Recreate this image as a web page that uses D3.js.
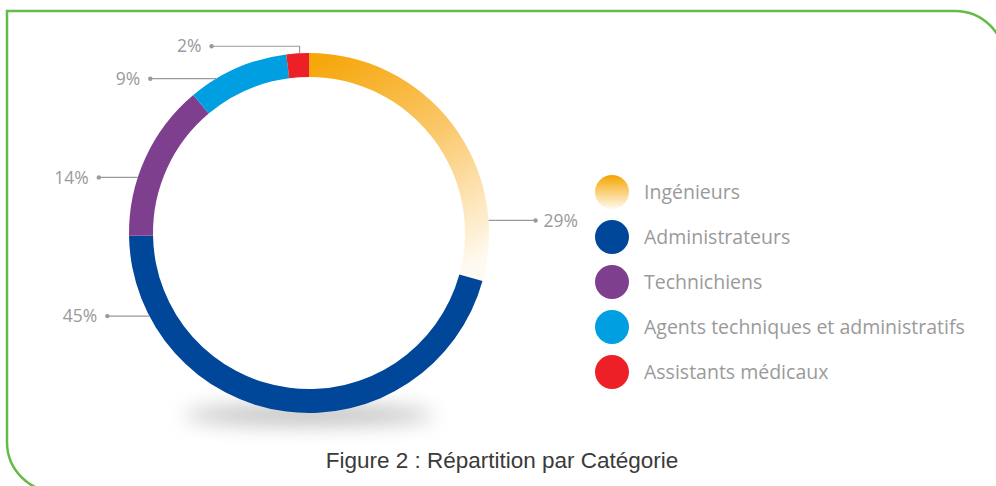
<!DOCTYPE html>
<html>
<head>
<meta charset="utf-8">
<script src="https://cdn.jsdelivr.net/npm/d3@7"></script>
<style>
  body { margin: 0; background: #fff; }
  svg { display: block; }
</style>
</head>
<body>
<div id="chart"></div>
<script>
// data
var categories = ["Ingénieurs", "Administrateurs", "Technichiens", "Agents techniques et administratifs", "Assistants médicaux"];
var values = [29, 45, 14, 9, 2];
var colors = ["url(#gradOrange)", "#004699", "#7e3f8f", "#009fe1", "#ee2027"];
var legendColors = ["url(#gradLegend)", "#004699", "#7e3f8f", "#009fe1", "#ee2027"];
var title = "Figure 2 : Répartition par Catégorie";

var width = 996, height = 486;
var cx = 309, cy = 233, rOuter = 180, rInner = 156;

// where each leader line leaves the ring (degrees clockwise from top) and how long it is
var leaders = [
  {angle: 86, len: 47},
  {angle: 242.5, len: -42},
  {angle: 288, len: -39},
  {angle: 329, len: -66},
  {angle: 357, len: -88, elbow: 7}
];

var svg = d3.select("#chart").append("svg")
  .attr("width", width)
  .attr("height", height);

var defs = svg.append("defs");

// gradient coords are relative to the ring centre (ring group is translated)
var g1 = defs.append("linearGradient").attr("id", "gradOrange")
  .attr("gradientUnits", "userSpaceOnUse")
  .attr("x1", 20).attr("y1", -175).attr("x2", 140).attr("y2", 45);
g1.append("stop").attr("offset", "0").attr("stop-color", "#f6a70c");
g1.append("stop").attr("offset", "0.45").attr("stop-color", "#fac768");
g1.append("stop").attr("offset", "1").attr("stop-color", "#fffaf1");

var g2 = defs.append("linearGradient").attr("id", "gradLegend")
  .attr("x1", 0).attr("y1", 0).attr("x2", 0).attr("y2", 1);
g2.append("stop").attr("offset", "0").attr("stop-color", "#f5a400");
g2.append("stop").attr("offset", "1").attr("stop-color", "#fffaf0");

var blur = defs.append("filter").attr("id", "blur")
  .attr("x", "-50%").attr("y", "-300%").attr("width", "200%").attr("height", "700%");
blur.append("feGaussianBlur").attr("stdDeviation", 10);

// green frame, rounded top-right and bottom-left
var fx = 7, fy = 11, fr = 50, fRight = 1005, fBottom = 492;
svg.append("path")
  .attr("d", "M" + fx + "," + fy + " H" + (fRight - fr) +
    " A" + fr + "," + fr + " 0 0 1 " + fRight + "," + (fy + fr) +
    " V" + fBottom + " H" + (fx + fr) +
    " A" + fr + "," + fr + " 0 0 1 " + fx + "," + (fBottom - fr) + " Z")
  .attr("fill", "none")
  .attr("stroke", "#63bc46")
  .attr("stroke-width", 2.5);

// shadow under the ring
svg.append("ellipse")
  .attr("cx", cx).attr("cy", cy + rOuter + 2)
  .attr("rx", 125).attr("ry", 10)
  .attr("fill", "#8a8a8a")
  .attr("opacity", 0.55)
  .attr("filter", "url(#blur)");

var pie = d3.pie().sort(null).value(function(d) { return d; });
var arc = d3.arc().innerRadius(rInner).outerRadius(rOuter);
var arcs = pie(values);

var ring = svg.append("g").attr("transform", "translate(" + cx + "," + cy + ")");
ring.append("circle").attr("r", rInner).attr("fill", "#fff");
ring.selectAll("path").data(arcs).enter().append("path")
  .attr("d", arc)
  .attr("fill", function(d, i) { return colors[i]; });

// labels
var lab = svg.append("g");
arcs.forEach(function(d, i) {
  var L = leaders[i];
  var a = L.angle * Math.PI / 180;
  var px = cx + rOuter * Math.sin(a), py = cy - rOuter * Math.cos(a);
  var pts;
  if (L.elbow) {
    pts = [[px, py], [px, py - L.elbow], [px + L.len, py - L.elbow]];
  } else {
    pts = [[px, py], [px + L.len, py]];
  }
  var end = pts[pts.length - 1];
  lab.append("path")
    .attr("d", d3.line()(pts))
    .attr("fill", "none")
    .attr("stroke", "#9a9a9a")
    .attr("stroke-width", 1.2);
  lab.append("circle")
    .attr("cx", end[0]).attr("cy", end[1]).attr("r", 2.2)
    .attr("fill", "#9a9a9a");
  var right = L.len > 0;
  lab.append("text")
    .attr("x", end[0] + (right ? 8 : -10))
    .attr("y", end[1])
    .attr("dy", "0.35em")
    .attr("text-anchor", right ? "start" : "end")
    .style("font-family", "'Open Sans', Lato, sans-serif")
    .style("font-size", "17.5px")
    .style("fill", "#9a9a9a")
    .text(values[i] + "%");
});

// legend
var ly = d3.scalePoint().domain(categories).range([192, 372]);
var legend = svg.append("g").selectAll("g").data(categories).enter().append("g")
  .attr("transform", function(d) { return "translate(612," + ly(d) + ")"; });
legend.append("circle")
  .attr("r", 17)
  .attr("fill", function(d, i) { return legendColors[i]; });
legend.append("text")
  .attr("x", 32)
  .attr("dy", "0.35em")
  .style("font-family", "'Open Sans', Lato, sans-serif")
  .style("font-size", "19.5px")
  .style("fill", "#9a9a9a")
  .text(function(d) { return d; });

svg.append("text")
  .attr("x", 502).attr("y", 468)
  .attr("text-anchor", "middle")
  .style("font-family", "'Liberation Sans', Arial, sans-serif")
  .style("font-size", "22.5px")
  .style("fill", "#3a3a3a")
  .text(title);
</script>
</body>
</html>
